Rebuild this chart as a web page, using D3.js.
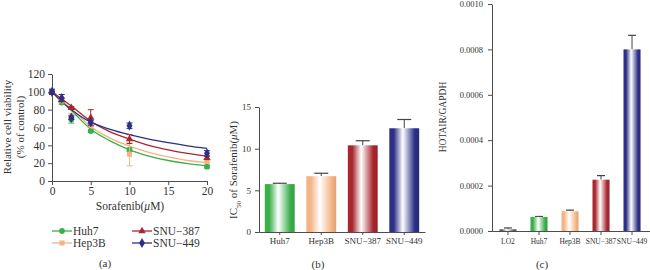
<!DOCTYPE html>
<html><head><meta charset="utf-8">
<script src="https://cdn.jsdelivr.net/npm/d3@7"></script>
<style>
html,body{margin:0;padding:0;background:#fff;}
svg{display:block;}
text{font-family:"Liberation Serif","DejaVu Serif",serif;fill:#333;}
</style></head>
<body>
<svg id="c" width="650" height="270"></svg>
<script>
// ---------- Panel (a) data ----------
const doses = [0, 1.25, 2.5, 5, 10, 20];
const seriesNames = ["Huh7", "Hep3B", "SNU\u2212387", "SNU\u2212449"];
const huh7Vals   = [100, 88, 69, 56, 35, 16];
const hep3bVals  = [100, 90, 73, 63, 30, 22];
const snu387Vals = [100, 91, 82, 71, 47, 26];
const snu449Vals = [100, 93, 71, 66, 62, 31];
const huh7Err    = [2, 2, 4, 1.5, 2, 1.5];
const hep3bErr   = [2, 2, 3, 2, 13, 2];
const snu387Err  = [2, 2, 1.5, 9, 5, 2];
const snu449Err  = [3, 4, 2, 2, 3, 3];
const fitDoses   = [0, 1.25, 2.5, 5, 7.5, 10, 12.5, 15, 17.5, 20];
const huh7Fit    = [100, 89, 79, 58, 45, 35, 28, 23, 19.5, 17];
const hep3bFit   = [100, 90, 81, 61, 48, 39, 32, 27, 23, 20.5];
const snu387Fit  = [100, 92, 84, 67, 55, 47, 40, 35, 31, 28];
const snu449Fit  = [100, 89, 80, 66, 58, 52, 47, 43, 39.5, 36.5];
const yTicksA = [0, 20, 40, 60, 80, 100, 120];
const xTicksA = [0, 5, 10, 15, 20];

// ---------- Panel (b) data ----------
const ic50Cats = ["Huh7", "Hep3B", "SNU\u2212387", "SNU\u2212449"];
const ic50Vals = [5.75, 6.7, 10.4, 12.45];
const ic50Err  = [0.1, 0.35, 0.55, 1.05];
const yTicksB  = [0, 5, 10, 15];

// ---------- Panel (c) data ----------
const hotCats = ["LO2", "Huh7", "Hep3B", "SNU\u2212387", "SNU\u2212449"];
const hotVals = [0.0000075, 0.000062, 0.000087, 0.000226, 0.0008];
const hotErr  = [0.000006, 0.000002, 0.000005, 0.000018, 0.000062];
const yTicksC = [0, 0.0002, 0.0004, 0.0006, 0.0008, 0.0010];

const colors = ["#3aaf4a", "#f4b483", "#a8262e", "#2c2f86"];
const hotColors = ["#555555", "#3aaf4a", "#f4b483", "#a8262e", "#2c2f86"];
const axisCol = "#4d4d4d";

const svg = d3.select("#c");
const defs = svg.append("defs");
hotColors.forEach((c, i) => {
  const g = defs.append("linearGradient").attr("id", "grad" + i)
    .attr("x1", "0%").attr("x2", "100%").attr("y1", "0%").attr("y2", "0%");
  g.append("stop").attr("offset", "0%").attr("stop-color", c);
  g.append("stop").attr("offset", "15%").attr("stop-color", c);
  g.append("stop").attr("offset", "45%").attr("stop-color", "#ffffff");
  g.append("stop").attr("offset", "85%").attr("stop-color", c);
  g.append("stop").attr("offset", "100%").attr("stop-color", d3.color(c).darker(0.3));
});

function styleAxis(g, fs) {
  g.selectAll("path.domain").attr("stroke", axisCol).attr("stroke-width", 1);
  g.selectAll(".tick line").attr("stroke", axisCol);
  g.selectAll(".tick text").style("font-family", '"Liberation Serif","DejaVu Serif",serif')
    .style("font-size", fs + "px").attr("fill", "#333");
}

// ================= Panel (a) =================
const xA = d3.scaleLinear().domain([0, 20]).range([52, 207]);
const yA = d3.scaleLinear().domain([0, 120]).range([181, 74]);
const gA = svg.append("g");
const axYA = gA.append("g").attr("transform", `translate(${xA(0)},0)`)
  .call(d3.axisLeft(yA).tickValues(yTicksA).tickSize(4).tickPadding(3).tickSizeOuter(0));
styleAxis(axYA, 11.5);
const axXA = gA.append("g").attr("transform", `translate(0,${yA(0)})`)
  .call(d3.axisBottom(xA).tickValues(xTicksA).tickSize(4).tickPadding(2).tickSizeOuter(0));
styleAxis(axXA, 11.5);

const seriesVals = [huh7Vals, hep3bVals, snu387Vals, snu449Vals];
const seriesErr = [huh7Err, hep3bErr, snu387Err, snu449Err];
const seriesFit = [huh7Fit, hep3bFit, snu387Fit, snu449Fit];
const symbols = [d3.symbolCircle, d3.symbolSquare, d3.symbolTriangle, d3.symbolDiamond];
const symSizes = [26, 26, 24, 30];
const line = d3.line().x(d => xA(d[0])).y(d => yA(d[1])).curve(d3.curveMonotoneX);

seriesFit.forEach((f, i) => {
  gA.append("path").datum(fitDoses.map((x, j) => [x, f[j]]))
    .attr("d", line).attr("fill", "none").attr("stroke", colors[i]).attr("stroke-width", 1.3);
});
seriesVals.forEach((vals, i) => {
  const c = colors[i];
  const g = gA.append("g");
  vals.forEach((v, j) => {
    const x = xA(doses[j]);
    const e = seriesErr[i][j];
    g.append("line").attr("x1", x).attr("x2", x).attr("y1", yA(v - e)).attr("y2", yA(v + e))
      .attr("stroke", c).attr("stroke-width", 1);
    [v - e, v + e].forEach(t => g.append("line").attr("x1", x - 3).attr("x2", x + 3)
      .attr("y1", yA(t)).attr("y2", yA(t)).attr("stroke", c).attr("stroke-width", 1));
    g.append("path").attr("d", d3.symbol().type(symbols[i]).size(symSizes[i])())
      .attr("transform", `translate(${x},${yA(v)})`).attr("fill", c);
  });
});

// axis label (a)
const xtA = gA.append("text").attr("x", 130).attr("y", 210).attr("text-anchor", "middle")
  .style("font-size", "11.5px");
xtA.append("tspan").text("Sorafenib(");
xtA.append("tspan").style("font-style", "italic").text("\u03bc");
xtA.append("tspan").text("M)");
gA.append("text").attr("transform", "translate(11,127) rotate(-90)").attr("text-anchor", "middle")
  .style("font-size", "11px").text("Relative cell viability");
gA.append("text").attr("transform", "translate(24,127) rotate(-90)").attr("text-anchor", "middle")
  .style("font-size", "11px").text("(% of control)");

// legend (a)
const legPos = [[52, 231], [52, 243], [132, 231], [132, 243]];
seriesNames.forEach((n, i) => {
  const [lx, ly] = legPos[i];
  gA.append("line").attr("x1", lx).attr("x2", lx + 20).attr("y1", ly).attr("y2", ly)
    .attr("stroke", colors[i]).attr("stroke-width", 1.3);
  gA.append("path").attr("d", d3.symbol().type(symbols[i]).size(symSizes[i])())
    .attr("transform", `translate(${lx + 10},${ly})`).attr("fill", colors[i]);
  gA.append("text").attr("x", lx + 21).attr("y", ly + 4).style("font-size", "11.5px").text(n);
});
gA.append("text").attr("x", 105).attr("y", 267).attr("text-anchor", "middle")
  .style("font-size", "11px").text("(a)");

// ================= Panel (b) =================
const xB = d3.scaleBand().domain(ic50Cats).range([259, 425]).paddingInner(0.28).paddingOuter(0.14);
const yB = d3.scaleLinear().domain([0, 15]).range([232, 107]);
const gB = svg.append("g");
ic50Vals.forEach((v, i) => {
  const x = xB(ic50Cats[i]), w = xB.bandwidth(), cx = x + w / 2;
  const top = yB(v + ic50Err[i]);
  gB.append("line").attr("x1", cx).attr("x2", cx).attr("y1", yB(v)).attr("y2", top)
    .attr("stroke", "#444").attr("stroke-width", 1);
  gB.append("line").attr("x1", cx - 7).attr("x2", cx + 7).attr("y1", top).attr("y2", top)
    .attr("stroke", "#444").attr("stroke-width", 1.2);
  gB.append("rect").attr("x", x).attr("y", yB(v)).attr("width", w).attr("height", yB(0) - yB(v))
    .attr("fill", `url(#grad${i + 1})`);
});
const axYB = gB.append("g").attr("transform", `translate(259,0)`)
  .call(d3.axisLeft(yB).tickValues(yTicksB).tickSize(4).tickPadding(4).tickSizeOuter(0));
styleAxis(axYB, 9);
const axXB = gB.append("g").attr("transform", `translate(0,232)`)
  .call(d3.axisBottom(xB).tickSize(3).tickPadding(3).tickSizeOuter(0));
styleAxis(axXB, 9);
const ylB = gB.append("text").attr("transform", "translate(237,170) rotate(-90)").attr("text-anchor", "middle")
  .style("font-size", "11px");
ylB.append("tspan").text("IC");
ylB.append("tspan").attr("baseline-shift", "sub").style("font-size", "7px").text("50");
ylB.append("tspan").text(" of Sorafenib(");
ylB.append("tspan").style("font-style", "italic").text("\u03bc");
ylB.append("tspan").text("M)");
gB.append("text").attr("x", 318).attr("y", 268).attr("text-anchor", "middle")
  .style("font-size", "11px").text("(b)");

// ================= Panel (c) =================
const xC = d3.scaleBand().domain(hotCats).range([492, 648]).paddingInner(0.45).paddingOuter(0.24);
const yC = d3.scaleLinear().domain([0, 0.001]).range([231, 4]);
const gC = svg.append("g");
hotVals.forEach((v, i) => {
  const x = xC(hotCats[i]), w = xC.bandwidth(), cx = x + w / 2;
  const top = yC(v + hotErr[i]);
  gC.append("line").attr("x1", cx).attr("x2", cx).attr("y1", yC(v)).attr("y2", top)
    .attr("stroke", "#444").attr("stroke-width", 1);
  gC.append("line").attr("x1", cx - 4).attr("x2", cx + 4).attr("y1", top).attr("y2", top)
    .attr("stroke", "#444").attr("stroke-width", 1.2);
  gC.append("rect").attr("x", x).attr("y", yC(v)).attr("width", w).attr("height", yC(0) - yC(v))
    .attr("fill", `url(#grad${i})`);
});
const axYC = gC.append("g").attr("transform", `translate(492,0)`)
  .call(d3.axisLeft(yC).tickValues(yTicksC).tickFormat(d3.format(".4f")).tickSize(4).tickPadding(5).tickSizeOuter(0));
styleAxis(axYC, 8.5);
const axXC = gC.append("g").attr("transform", `translate(0,231)`)
  .call(d3.axisBottom(xC).tickSize(4).tickPadding(4).tickSizeOuter(0));
styleAxis(axXC, 7.5);
axXC.select("path.domain").attr("d", "M492,0.5H650");
gC.append("text").attr("transform", "translate(446,117) rotate(-90)").attr("text-anchor", "middle")
  .style("font-size", "9.5px").text("HOTAIR/GAPDH");
gC.append("text").attr("x", 542).attr("y", 268).attr("text-anchor", "middle")
  .style("font-size", "11px").text("(c)");
</script>
</body></html>
